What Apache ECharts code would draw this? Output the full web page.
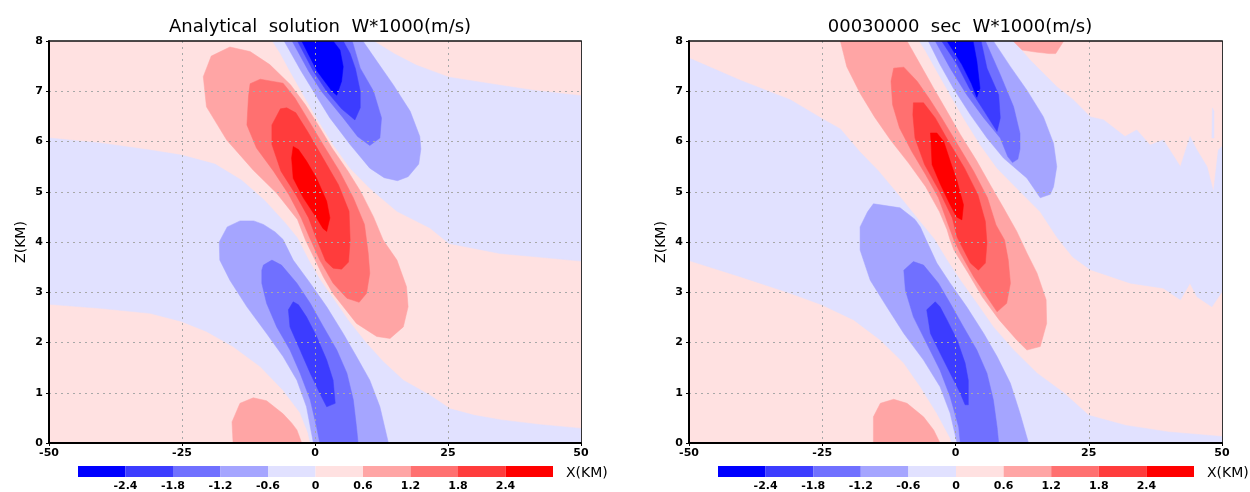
<!DOCTYPE html>
<html>
<head>
<meta charset="utf-8">
<script src="https://cdn.jsdelivr.net/npm/echarts@6/dist/echarts.min.js"></script>
<style>
html, body { margin: 0; padding: 0; background: #fff; }
#chart { width: 1250px; height: 492px; }
</style>
</head>
<body>
<div id="chart"></div>
<script>
// contour levels of W*1000 (m/s) and the shade of each band between them
var levels = [-2.4, -1.8, -1.2, -0.6, 0, 0.6, 1.2, 1.8, 2.4];
var shades = ['#0000ff', '#3c3cff', '#7070ff', '#a5a5ff', '#e1e1ff',
              '#ffe1e1', '#ffa5a5', '#ff7070', '#ff3c3c', '#ff0000'];

// whole x-z domain (km)
var domain = [[-50, 0], [50, 0], [50, 8], [-50, 8]];

// ---- analytical solution: contour outlines, [x km, z km] ----
var anaZeroLow = [[-50, 6.07], [-40.4, 5.97], [-31, 5.83], [-25.1, 5.73], [-18.8, 5.55], [-13.8, 5.23], [-9.5, 4.83],
  [-5.6, 4.38], [-3.3, 4.08], [-1.2, 3.64], [1.0, 3.24], [3.6, 2.85], [6.2, 2.45], [9.4, 2.02], [12.8, 1.62],
  [16.6, 1.25], [21.6, 0.95], [25.4, 0.68], [30, 0.55], [35, 0.46], [42, 0.37], [50, 0.29], [50, 0], [-0.9, 0],
  [-1.3, 0.2], [-2.8, 0.6], [-6, 1.05], [-10.3, 1.52], [-15.4, 1.92], [-20.4, 2.22], [-25.1, 2.42], [-31, 2.58],
  [-40.4, 2.68], [-50, 2.76]];
var anaZeroUp = [[-8, 8], [11, 8], [15, 7.74], [19, 7.52], [21.6, 7.42], [25.2, 7.28], [30, 7.2], [34.8, 7.12],
  [41, 7.02], [50, 6.91], [50, 3.62], [42, 3.7], [34.8, 3.77], [25.2, 3.97], [21.6, 4.28], [15.4, 4.61],
  [10.3, 5.07], [6.6, 5.47], [3.4, 5.94], [0.3, 6.47], [-2.2, 6.93], [-4.7, 7.4], [-6.5, 7.75]];
var anaPosBottom = [[-15.4, 0], [-15.6, 0.42], [-14.1, 0.79], [-11.6, 0.9], [-9.1, 0.84], [-6, 0.58], [-4.4, 0.4],
  [-3.4, 0.26], [-2.5, 0]];
var anaPos06 = [[-21, 7.29], [-19.5, 7.7], [-16, 7.88], [-12.2, 7.79], [-8.5, 7.53], [-4.6, 7.13], [-1.8, 6.73],
  [0.6, 6.33], [3.2, 5.87], [6.2, 5.41], [8.6, 5.0], [11, 4.5], [12.8, 4.04], [15.4, 3.64], [17.2, 3.11],
  [17.5, 2.71], [16.6, 2.31], [14.1, 2.08], [11.6, 2.12], [7.8, 2.38], [3.4, 2.97], [1.6, 3.3], [-0.3, 3.71],
  [-1.8, 4.04], [-3.3, 4.45], [-7.2, 4.97], [-11.6, 5.43], [-16.6, 6.03], [-20.4, 6.69]];
var anaPos12 = [[-12.5, 6.9], [-12.2, 7.15], [-10.3, 7.24], [-6, 7.16], [-3.8, 6.87], [-1.5, 6.47], [1.5, 5.94],
  [4.6, 5.41], [7.2, 4.88], [9.3, 4.35], [10, 3.78], [10.3, 3.38], [9.7, 2.98], [8.3, 2.8], [6, 2.88],
  [3.4, 3.18], [0.9, 3.64], [-0.9, 4.06], [-2.6, 4.48], [-4.9, 4.94], [-7.8, 5.41], [-11, 5.87], [-12.8, 6.33]];
var anaPos18 = [[-6.5, 6.65], [-5.3, 6.67], [-3.6, 6.57], [-1.4, 6.2], [1.5, 5.67], [4.4, 5.14], [6.4, 4.61],
  [6.6, 4.04], [6.3, 3.6], [5.0, 3.46], [3.4, 3.48], [2.0, 3.62], [0.3, 4.06], [-1.2, 4.48], [-3.6, 4.94],
  [-6.4, 5.41], [-8.1, 5.94], [-8.1, 6.33]];
var anaPos24 = [[-4.1, 5.9], [-3.1, 5.84], [-1.6, 5.61], [0.3, 5.27], [2.2, 4.81], [2.8, 4.48], [2.2, 4.21],
  [1.5, 4.27], [0.3, 4.48], [-2.2, 4.88], [-4.1, 5.27], [-4.4, 5.67]];
var anaNegLow06 = [[-0.3, 0], [-1.6, 0.72], [-3.4, 1.25], [-6, 1.72], [-9.1, 2.18], [-12.8, 2.71], [-16, 3.24],
  [-17.9, 3.64], [-18, 4.0], [-16.5, 4.3], [-14.1, 4.42], [-11.5, 4.42], [-9.7, 4.35], [-7.5, 4.2], [-6, 4.05],
  [-4.1, 3.64], [-0.9, 3.18], [2.2, 2.71], [5.3, 2.18], [7.8, 1.72], [10.3, 1.25], [12.2, 0.72], [13.8, 0]];
var anaNegLow12 = [[0.9, 0], [0.3, 0.32], [-0.9, 0.86], [-2.8, 1.39], [-4.7, 1.85], [-7.2, 2.31], [-9.1, 2.78],
  [-10, 3.18], [-10, 3.44], [-9.7, 3.54], [-8.1, 3.64], [-6.3, 3.54], [-3.4, 3.18], [-0.9, 2.78], [1.6, 2.31],
  [4.1, 1.85], [6, 1.39], [7.2, 0.86], [7.8, 0.32], [8.1, 0]];
var anaNegLow18 = [[-4.1, 2.81], [-5, 2.65], [-4.7, 2.31], [-2.8, 1.85], [-0.9, 1.39], [0.9, 0.99], [2.2, 0.72],
  [3.8, 0.79], [3.4, 1.25], [2.2, 1.65], [0.3, 2.12], [-1.6, 2.51], [-3.1, 2.75]];
var anaNegUp06 = [[-5.8, 8], [-2.6, 7.4], [-0.3, 7.0], [2.8, 6.47], [6.6, 5.94], [10.3, 5.47], [13, 5.28],
  [15.5, 5.22], [17.5, 5.3], [19.5, 5.55], [19.9, 5.85], [19.7, 6.1], [17.9, 6.6], [14.7, 7.13], [11.6, 7.6], [9, 8]];
var anaNegUp12 = [[-4.3, 8], [-1.2, 7.4], [1.2, 7.0], [5.3, 6.47], [8, 6.1], [10.3, 5.92], [12.2, 6.07],
  [12.5, 6.47], [11, 7.0], [8.5, 7.46], [7, 8]];
var anaNegUp18 = [[-3.3, 8], [-0.3, 7.4], [2.2, 7.0], [5, 6.65], [7.5, 6.43], [8.5, 6.67], [8.5, 7.0],
  [7.6, 7.45], [6.6, 7.75], [5.3, 8]];
var anaNegUp24 = [[-2.5, 8], [0.4, 7.4], [3.2, 7.0], [4.1, 6.92], [5.0, 7.2], [5.3, 7.49], [4.7, 7.82], [3.4, 8]];

// ---- model run at 30000 s ----
var simZeroLow = [[-50, 7.66], [-40.4, 7.22], [-31, 6.83], [-25.1, 6.46], [-21.6, 6.25], [-18, 5.8], [-14.5, 5.42],
  [-10.8, 4.95], [-7, 4.45], [-4, 4.06], [-1.6, 3.64], [0.9, 3.24], [4, 2.78], [7.1, 2.31], [10.9, 1.85],
  [15.3, 1.39], [20.3, 1.0], [25, 0.55], [32, 0.35], [40, 0.22], [50, 0.13], [50, 0], [-0.7, 0], [-1, 0.1],
  [-3.5, 0.59], [-6.6, 1.12], [-9.7, 1.59], [-14.1, 2.05], [-19.1, 2.45], [-25.1, 2.75], [-31, 2.98],
  [-40.4, 3.31], [-50, 3.63]];
var simZeroUp = [[-6.8, 8], [10.9, 8], [14, 7.62], [19, 7.09], [22.1, 6.83], [25.3, 6.49], [27.8, 6.43],
  [31.8, 6.1], [34, 6.23], [36.5, 5.93], [39, 6.03], [42.2, 5.5], [44, 6.1], [45.3, 5.83], [47.2, 5.5],
  [48.4, 5.0], [49.3, 5.83], [50, 5.9], [50, 3.01], [48.1, 2.71], [45.3, 2.91], [44, 3.18], [42.2, 2.85],
  [39, 3.08], [32.8, 3.18], [25.3, 3.45], [22, 3.7], [19, 4.1], [15.9, 4.6], [11.5, 5.07], [7.8, 5.47],
  [4.6, 5.94], [1.5, 6.47], [-1, 6.93], [-3.5, 7.4], [-5.6, 7.8]];
var simZeroSliver = [[48.1, 6.07], [48.2, 6.67], [48.5, 6.6], [48.5, 6.07]];
var simPosTop = [[10.8, 8], [12.5, 7.82], [15, 7.78], [17.5, 7.75], [18.8, 7.75], [20.3, 8]];
var simPosBottom = [[-15.4, 0], [-15.4, 0.52], [-14.1, 0.79], [-11.6, 0.87], [-9.1, 0.79], [-6, 0.52],
  [-4.1, 0.26], [-2.9, 0]];
var simPos06 = [[-21.6, 8], [-20.4, 7.49], [-17.9, 6.96], [-15.2, 6.49], [-12.2, 6.03], [-8.8, 5.57], [-5.6, 5.1],
  [-3.0, 4.6], [-1.6, 4.25], [-1.0, 4.04], [-0.3, 3.84], [2.4, 3.38], [5.0, 2.91], [8.2, 2.45], [11.5, 2.05],
  [13.4, 1.85], [15.9, 1.92], [17.1, 2.38], [17, 2.85], [15.3, 3.38], [13.4, 3.78], [11.5, 4.21], [9, 4.68],
  [6.5, 5.14], [4, 5.61], [0.9, 6.14], [-1.6, 6.6], [-4.1, 7.06], [-6.6, 7.53], [-9.1, 8]];
var simPos12 = [[-11.6, 7.46], [-9.7, 7.48], [-7.2, 7.2], [-4.9, 6.85], [-2.6, 6.47], [0.4, 5.94], [3.4, 5.41],
  [6.0, 4.88], [7.6, 4.34], [9.2, 4.04], [9.9, 3.64], [10.3, 3.18], [9.6, 2.78], [7.8, 2.61], [5.9, 2.91],
  [3.4, 3.31], [0.9, 3.78], [-0.3, 4.04], [-1.2, 4.3], [-3.2, 4.88], [-5.6, 5.34], [-8.2, 5.8], [-10.5, 6.27],
  [-11.8, 6.73], [-12.1, 7.2]];
var simPos18 = [[-7.9, 6.77], [-6, 6.77], [-3.8, 6.47], [-1.3, 6.0], [1.7, 5.47], [4.2, 4.94], [5.6, 4.41],
  [5.9, 3.98], [5.6, 3.58], [4.3, 3.44], [2.8, 3.58], [0.9, 3.97], [0.3, 4.1], [-0.6, 4.48], [-3.0, 5.01],
  [-5.8, 5.54], [-7.6, 6.07], [-8.0, 6.53]];
var simPos24 = [[-4.7, 6.17], [-3.5, 6.17], [-2.2, 6.0], [-1, 5.61], [0.3, 5.21], [1.5, 4.74], [1.2, 4.44],
  [0.2, 4.5], [-1.0, 4.74], [-2.8, 5.14], [-4.4, 5.54], [-4.6, 6.0]];
var simNegLow06 = [[0.3, 0], [-1, 0.59], [-2.9, 1.12], [-6, 1.65], [-9.7, 2.18], [-12.9, 2.71], [-16, 3.24],
  [-17.9, 3.84], [-17.9, 4.3], [-16.5, 4.6], [-15.4, 4.76], [-14.1, 4.74], [-10.4, 4.68], [-7.6, 4.45],
  [-6.6, 4.3], [-5.5, 4.04], [-3.5, 3.58], [-1, 3.18], [2.1, 2.71], [5.3, 2.18], [7.8, 1.72], [10.3, 1.19],
  [12.1, 0.59], [13.7, 0]];
var simNegLow12 = [[0.9, 0], [0.6, 0.32], [-1, 0.92], [-2.9, 1.45], [-5.4, 1.98], [-7.9, 2.51], [-9.4, 3.04],
  [-9.7, 3.44], [-7.9, 3.61], [-6, 3.54], [-3.2, 3.18], [-1, 2.78], [1.5, 2.31], [4, 1.85], [5.9, 1.39],
  [7.1, 0.86], [7.8, 0.32], [8.1, 0]];
var simNegLow18 = [[-3.8, 2.81], [-5.4, 2.65], [-4.7, 2.18], [-2.9, 1.79], [-1, 1.39], [0.9, 0.99], [1.8, 0.76],
  [2.4, 0.76], [2.4, 1.25], [1.8, 1.59], [0.3, 2.05], [-1.6, 2.45], [-2.9, 2.71]];
var simNegUp06 = [[-5.1, 8], [-2.9, 7.53], [-0.4, 7.06], [2.8, 6.53], [5.9, 6.07], [9, 5.67], [13.4, 5.27],
  [15.9, 4.88], [17.8, 4.95], [18.4, 5.1], [19, 5.5], [18.4, 5.96], [16.5, 6.49], [13.4, 7.02], [10.3, 7.49], [7.1, 8]];
var simNegUp12 = [[-3.8, 8], [-1, 7.46], [2.1, 6.93], [5.3, 6.47], [8.4, 6.07], [9.8, 5.7], [10.7, 5.58],
  [11.7, 5.65], [12.1, 5.85], [12.1, 6.16], [10.9, 6.69], [8.4, 7.33], [5.6, 8]];
var simNegUp18 = [[-2.6, 8], [0.3, 7.53], [2.6, 7.06], [5.4, 6.6], [7.8, 6.2], [8.4, 6.47], [8.1, 6.93],
  [5.9, 7.46], [4.8, 8]];
var simNegUp24 = [[-1.6, 8], [1.2, 7.53], [3.0, 7.15], [4, 6.88], [4.6, 7.06], [4.0, 7.6], [3.3, 8]];

// each filled region: lower level of its band (null = below -2.4), outline; drawn in this order
var anaRegions = [
  [0, domain], [-0.6, anaZeroLow], [-0.6, anaZeroUp], [0.6, anaPosBottom],
  [0.6, anaPos06], [1.2, anaPos12], [1.8, anaPos18], [2.4, anaPos24],
  [-1.2, anaNegLow06], [-1.8, anaNegLow12], [-2.4, anaNegLow18],
  [-1.2, anaNegUp06], [-1.8, anaNegUp12], [-2.4, anaNegUp18], [null, anaNegUp24]
];
var simRegions = [
  [0, domain], [-0.6, simZeroLow], [-0.6, simZeroUp], [-0.6, simZeroSliver], [0.6, simPosTop], [0.6, simPosBottom],
  [0.6, simPos06], [1.2, simPos12], [1.8, simPos18], [2.4, simPos24],
  [-1.2, simNegLow06], [-1.8, simNegLow12], [-2.4, simNegLow18],
  [-1.2, simNegUp06], [-1.8, simNegUp12], [-2.4, simNegUp18], [null, simNegUp24]
];

var titles = ['Analytical  solution  W*1000(m/s)', '00030000  sec  W*1000(m/s)'];

function bandColor(lo) {
  return lo === null ? shades[0] : shades[levels.indexOf(lo) + 1];
}

function contourSeries(regions, idx) {
  return {
    type: 'custom',
    xAxisIndex: idx,
    yAxisIndex: idx,
    clip: true,
    silent: true,
    data: regions.map(function (r, i) { return [r[1][0][0], r[1][0][1], i]; }),
    renderItem: function (params, api) {
      var r = regions[params.dataIndex];
      var pts = r[1].map(function (p) { return api.coord(p); });
      return {
        type: 'polygon',
        shape: { points: pts },
        style: { fill: bandColor(r[0]), stroke: bandColor(r[0]), lineWidth: 0.5 }
      };
    }
  };
}

function colorbarSeries(idx) {
  return {
    type: 'custom',
    xAxisIndex: idx,
    yAxisIndex: idx,
    silent: true,
    data: shades.map(function (c, i) { return [i, 0]; }),
    renderItem: function (params, api) {
      var i = api.value(0);
      var p0 = api.coord([i, 1]);
      var p1 = api.coord([i + 1, 0]);
      return {
        type: 'rect',
        shape: { x: p0[0], y: p0[1], width: p1[0] - p0[0], height: p1[1] - p0[1] },
        style: { fill: shades[i] }
      };
    }
  };
}

var chart = echarts.init(document.getElementById('chart'));

var tickFont = { fontFamily: 'DejaVu Sans', fontWeight: 'bold', fontSize: 11, color: '#000' };
var grids = [
  { left: 49, top: 41, width: 532, height: 402 },
  { left: 689, top: 41, width: 533, height: 402 },
  { left: 78, top: 466, width: 475, height: 11 },
  { left: 718, top: 466, width: 476, height: 11 }
];

var xAxes = [], yAxes = [];
[0, 1].forEach(function (g) {
  xAxes.push({
    gridIndex: g, type: 'value', min: -50, max: 50, interval: 25, z: 5,
    axisLine: { onZero: false, lineStyle: { color: '#000', width: 2 } },
    axisTick: { length: 3, lineStyle: { color: '#000' } },
    axisLabel: Object.assign({ margin: 5 }, tickFont),
    splitLine: { show: true, showMinLine: false, showMaxLine: false,
      lineStyle: { color: '#a8a8a8', width: 1, type: [2, 4] } }
  });
  yAxes.push({
    gridIndex: g, type: 'value', min: 0, max: 8, interval: 1, z: 5,
    name: 'Z(KM)', nameLocation: 'middle', nameGap: 21, nameRotate: 90,
    nameTextStyle: { fontFamily: 'DejaVu Sans', fontSize: 14, color: '#000' },
    axisLine: { onZero: false, lineStyle: { color: '#000', width: 2 } },
    axisTick: { length: 3, lineStyle: { color: '#000' } },
    axisLabel: Object.assign({ margin: 6 }, tickFont),
    splitLine: { show: true, showMinLine: false, showMaxLine: false,
      lineStyle: { color: '#a8a8a8', width: 1, type: [2, 4] } }
  });
});
[2, 3].forEach(function (g) {
  xAxes.push({
    gridIndex: g, type: 'value', min: 0, max: 10, interval: 1,
    axisLine: { show: false }, axisTick: { show: false }, splitLine: { show: false },
    axisLabel: Object.assign({ margin: 4, showMinLabel: true, showMaxLabel: true,
      formatter: function (v) { return (v > 0 && v < 10) ? String(levels[v - 1]) : ''; } }, tickFont)
  });
  yAxes.push({ gridIndex: g, type: 'value', min: 0, max: 1, show: false });
});
// frame lines on top and right of each plot
[0, 1].forEach(function (g) {
  xAxes.push({
    gridIndex: g, type: 'value', min: -50, max: 50, position: 'top', z: 5,
    axisLine: { onZero: false, lineStyle: { color: '#111', width: 1.5 } },
    axisTick: { show: false }, axisLabel: { show: false }, splitLine: { show: false }
  });
  yAxes.push({
    gridIndex: g, type: 'value', min: 0, max: 8, position: 'right', z: 5,
    axisLine: { onZero: false, lineStyle: { color: '#333', width: 1 } },
    axisTick: { show: false }, axisLabel: { show: false }, splitLine: { show: false }
  });
});

chart.setOption({
  animation: false,
  title: [
    { text: titles[0], left: 315, top: 13, textAlign: 'center',
      textStyle: { fontFamily: 'DejaVu Sans', fontWeight: 'normal', fontSize: 18, color: '#000' } },
    { text: titles[1], left: 955, top: 13, textAlign: 'center',
      textStyle: { fontFamily: 'DejaVu Sans', fontWeight: 'normal', fontSize: 18, color: '#000' } }
  ],
  grid: grids,
  xAxis: xAxes,
  yAxis: yAxes,
  graphic: [
    { type: 'text', left: 566, top: 466, style: { text: 'X(KM)', font: '14px "DejaVu Sans"', fill: '#000' } },
    { type: 'text', left: 1207, top: 466, style: { text: 'X(KM)', font: '14px "DejaVu Sans"', fill: '#000' } }
  ],
  series: [
    contourSeries(anaRegions, 0),
    contourSeries(simRegions, 1),
    colorbarSeries(2),
    colorbarSeries(3)
  ]
});
</script>
</body>
</html>
